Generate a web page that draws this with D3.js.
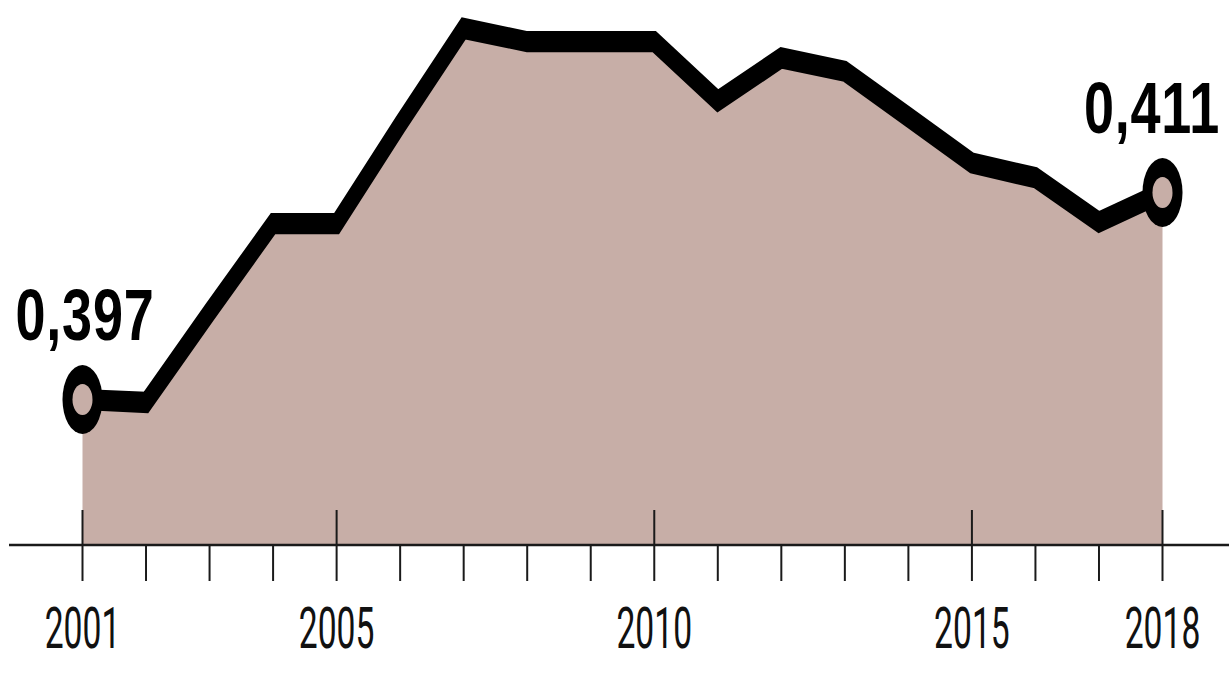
<!DOCTYPE html>
<html>
<head>
<meta charset="utf-8">
<script src="https://cdn.jsdelivr.net/npm/d3@7"></script>
<style>
  html, body { margin: 0; padding: 0; background: #fff; }
  svg { display: block; }
</style>
</head>
<body>
<svg width="1229" height="673"></svg>
<script>
const years = d3.range(2001, 2019);
const values = [0.397, 0.3968, 0.4029, 0.4089, 0.4089, 0.4156, 0.4221, 0.4212, 0.4212,
                0.4212, 0.4172, 0.4201, 0.4192, 0.4161, 0.4130, 0.4120, 0.4090, 0.411];
const labeledYears = [2001, 2005, 2010, 2015, 2018];
const endLabels = ["0,397", "0,411"];

const svg = d3.select("svg");
const width = 1229;
const baseY = 545;
const k = 1.7; // the picture is stretched vertically

const data = years.map((yr, i) => ({year: yr, value: values[i]}));

const x = d3.scaleLinear()
    .domain([2001, 2018])
    .range([82.5, 1162.5]);

const y = d3.scaleLinear()
    .domain([0.397, 0.411])
    .range([399.5, 192.5]);

const fillColor = "#c7aea7";

// area down to axis
svg.append("path")
    .datum(data)
    .attr("fill", fillColor)
    .attr("d", d3.area()
      .x(d => x(d.year))
      .y0(baseY)
      .y1(d => y(d.value)));

// axis line
svg.append("line")
    .attr("x1", 9).attr("x2", width)
    .attr("y1", baseY).attr("y2", baseY)
    .attr("stroke", "#1a1a1a")
    .attr("stroke-width", 2.5);

// ticks
svg.append("g")
  .selectAll("line")
  .data(years)
  .join("line")
    .attr("x1", d => x(d)).attr("x2", d => x(d))
    .attr("y1", d => labeledYears.includes(d) ? 510 : baseY)
    .attr("y2", 581)
    .attr("stroke", "#1a1a1a")
    .attr("stroke-width", 2);

// tick labels (condensed look)
svg.append("g")
  .selectAll("g")
  .data(labeledYears)
  .join("g")
    .attr("transform", d => `translate(${x(d)},648) scale(0.58,1)`)
  .append("text")
    .attr("text-anchor", "middle")
    .attr("font-family", "Roboto, Liberation Sans, sans-serif")
    .attr("font-weight", 400)
    .attr("font-size", 58)
    .attr("fill", "#111")
    .text(d => d);

// line drawn in a stretched group
const g = svg.append("g").attr("transform", `scale(1,${k})`);

g.append("path")
    .datum(data)
    .attr("fill", "none")
    .attr("stroke", "#000")
    .attr("stroke-width", 12.5)
    .attr("stroke-linejoin", "miter")
    .attr("d", d3.line()
      .x(d => x(d.year))
      .y(d => y(d.value) / k));

// ring markers at both ends
const ends = [data[0], data[data.length - 1]];
const marks = svg.append("g")
  .selectAll("g")
  .data(ends)
  .join("g")
    .attr("transform", d => `translate(${x(d.year)},${y(d.value)})`);
marks.append("ellipse")
    .attr("rx", 20).attr("ry", 34.5)
    .attr("fill", "#000");
marks.append("ellipse")
    .attr("rx", 10).attr("ry", 15.5)
    .attr("fill", fillColor);

// end value labels
const labelPos = [[85, 340], [1152, 133]];
svg.append("g")
  .selectAll("g")
  .data(endLabels)
  .join("g")
    .attr("transform", (d, i) => `translate(${labelPos[i][0]},${labelPos[i][1]}) scale(0.75,1)`)
  .append("text")
    .attr("text-anchor", "middle")
    .attr("font-family", "Liberation Sans, Arial, sans-serif")
    .attr("font-weight", "bold")
    .attr("font-size", 72)
    .attr("letter-spacing", 1)
    .attr("fill", "#000")
    .text(d => d);
</script>
</body>
</html>
